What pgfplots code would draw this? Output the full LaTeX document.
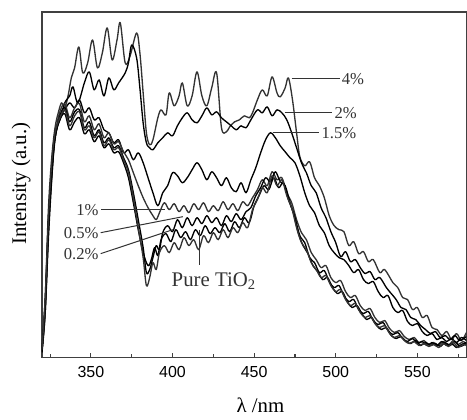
\documentclass[border=0pt]{standalone}
\usepackage{fontspec}
\setmainfont{Liberation Serif}
\newfontfamily\ticksf{Liberation Sans}
\usepackage{pgfplots}
\pgfplotsset{compat=1.18}

\begin{document}
\begin{tikzpicture}
\useasboundingbox (-25.2pt,-37.2pt) rectangle (255.4pt,214.8pt);
\begin{axis}[
  scale only axis, width=255pt, height=207.6pt,
  xmin=320, xmax=580, ymin=0, ymax=346,
  xtick={350,400,450,500,550}, xticklabels={350,400,450,500,550},
  minor xtick={325,375,425,475,525,575},
  ytick=\empty,
  xtick pos=bottom, tick align=inside,
  major tick length=3pt, minor tick length=1.8pt,
  axis line style={line width=0.8pt, black!75},
  tick style={line width=0.7pt, black!75},
  xticklabel style={font=\ticksf\fontsize{9.6}{11}\selectfont, yshift=-2pt},
  xlabel={λ /nm}, ylabel={Intensity (a.u.)},
  label style={font=\fontsize{12.5}{14}\selectfont},
  xlabel style={at={(axis description cs:0.515,0)}, anchor=base, yshift=-33pt},
  ylabel style={at={(axis description cs:-0.049,0.503)}, anchor=center},
  cycle list={{black!80, solid, no markers}},
  every axis plot/.append style={line width=0.8pt, smooth, tension=0.55, line join=round},
]
% 4%
\addplot coordinates {(320,8)(322,60)(324,150)(326,200)(328,230)(330,245)(332,255)(334,250)(336,262)(338,280)(340,290)(342.6,311)(345,285)(348,295)(351,318)(354,290)(357,305)(360,330)(363,298)(366,318)(368,335)(371,295)(374,302)(378,325)(380,305)(382,265)(384,225)(386,213)(388,218)(391,240)(393,248)(396,243)(398,265)(401,252)(404,262)(406,275)(409,252)(412,262)(415,286)(418,262)(421,252)(424,270)(427,285)(430,230)(433,226)(435,231)(438,236)(441,238)(444,242)(447,240)(449,245)(452,258)(455,268)(458,262)(461,281)(464,265)(466,261)(469,270)(471,280)(473.5,258)(476,225)(478,201)(481,192)(484,196)(487,180)(490,172)(493,160)(496,142)(499,132)(502,128)(505,126)(508,112)(511,116)(514,104)(517,106)(520,96)(523,98)(527,85)(530,88)(535,75)(538,70)(541,60)(544,58)(547,48)(550,50)(553,40)(556,42)(559,30)(562,28)(565,22)(568,26)(571,18)(574,24)(577,17)(580,25)};
% 2%
\addplot coordinates {(320,6)(322,52)(324,140)(326,190)(328,225)(331,238)(334,255)(337,262)(339,271)(342,255)(346,275)(349,286)(352,268)(355,278)(358,262)(361,280)(364,268)(367,275)(371,285)(373,295)(375,313)(378,300)(380,270)(382,235)(384,215)(386,210)(388,208)(391,215)(394,220)(397,225)(400,222)(403,232)(406,240)(409,245)(412,238)(415,235)(418,242)(421,250)(424,243)(427,246)(430,240)(433,236)(436,232)(439,228)(442,232)(445,230)(448,238)(452,248)(455,245)(458,251)(461,242)(464,248)(467,245)(470,238)(473,225)(476,210)(479,195)(482,185)(485,172)(488,165)(491,150)(494,140)(497,126)(500,115)(503,101)(506,106)(509,96)(512,98)(515,90)(518,84)(521,86)(524,78)(527,80)(531,70)(534,64)(537,58)(540,50)(543,48)(546,40)(549,38)(552,32)(555,28)(558,24)(561,26)(564,20)(567,22)(570,18)(573,22)(576,17)(580,21)};
% 1.5%
\addplot coordinates {(320,5)(322,45)(324,130)(326,185)(328,220)(331,240)(334,248)(337,255)(340,250)(343,258)(346,245)(349,250)(352,238)(355,240)(358,228)(361,225)(364,215)(367,218)(370,205)(373,208)(376,198)(379,205)(382,195)(385,180)(388,165)(391,152)(394,165)(397,172)(400,185)(403,182)(406,175)(409,180)(412,188)(415,195)(418,188)(421,178)(424,186)(427,180)(430,172)(433,180)(436,170)(439,166)(442,175)(445,165)(448,178)(451,190)(454,205)(457,218)(460,225)(463,220)(466,212)(469,206)(472,200)(475,195)(478,182)(481,165)(484,152)(487,145)(490,132)(493,125)(496,112)(499,105)(502,100)(505,98)(508,92)(511,85)(514,88)(517,78)(520,74)(523,76)(526,66)(529,60)(532,62)(535,50)(538,45)(541,47)(544,36)(547,32)(550,34)(553,26)(556,22)(559,24)(562,18)(565,20)(568,16)(571,19)(574,15)(577,20)(580,17)};
% 1%
\addplot coordinates {(320,8)(322,45)(324,120)(326,178)(328,222)(331,246)(334,254)(337,240)(340,250)(343,254)(346,236)(349,242)(352,228)(355,234)(358,220)(361,225)(364,214)(367,216)(370,206)(373,198)(376,185)(379,172)(382,160)(385,150)(388,142)(390,138)(392,145)(395,155)(398,148)(401,154)(404,146)(407,152)(410,145)(413,154)(416,148)(419,155)(422,146)(425,152)(428,147)(431,156)(434,148)(437,154)(440,147)(443,156)(446,152)(449,160)(452,168)(455,178)(458,172)(461,186)(464,178)(467,180)(470,165)(473,155)(476,138)(479,125)(482,118)(485,105)(488,98)(491,90)(494,92)(497,80)(500,75)(503,77)(506,66)(509,60)(512,62)(515,52)(518,47)(521,49)(524,40)(527,35)(530,37)(533,29)(536,25)(539,27)(542,21)(545,18)(548,20)(551,15)(554,17)(557,13)(560,15)(563,12)(566,16)(569,12)(572,17)(575,13)(578,16)(580,14)};
% 0.5%
\addplot coordinates {(320,6)(322,50)(324,125)(326,180)(328,218)(331,242)(334,250)(337,236)(340,246)(343,248)(346,230)(349,236)(352,222)(355,228)(358,215)(361,220)(364,210)(367,212)(370,200)(373,188)(376,165)(379,138)(382,110)(384,85)(386,88)(388,100)(390,112)(392,108)(394,125)(397,132)(400,126)(403,138)(406,130)(409,140)(412,132)(415,140)(418,134)(421,142)(424,135)(427,140)(430,132)(433,142)(436,136)(439,144)(442,138)(445,146)(448,150)(451,162)(454,170)(457,180)(460,176)(463,186)(466,176)(469,172)(472,155)(475,140)(478,122)(481,115)(484,100)(487,95)(490,85)(493,87)(496,76)(499,70)(502,72)(505,62)(508,56)(511,58)(514,48)(517,44)(520,46)(523,37)(526,33)(529,35)(532,27)(535,23)(538,25)(541,19)(544,16)(547,19)(550,14)(553,16)(556,12)(559,15)(562,12)(565,16)(568,12)(571,14)(574,10)(577,13)(580,15)};
% 0.2%
\addplot coordinates {(320,10)(322,55)(324,130)(326,185)(328,220)(331,238)(334,244)(337,228)(340,236)(343,240)(346,224)(349,228)(352,216)(355,222)(358,210)(361,214)(364,205)(367,206)(370,195)(373,180)(376,155)(379,128)(382,105)(385,92)(387,98)(389,110)(391,102)(393,118)(396,124)(399,116)(402,128)(405,120)(408,126)(411,118)(414,128)(417,122)(420,132)(423,124)(426,130)(429,125)(432,134)(435,126)(438,136)(441,130)(444,140)(447,135)(450,152)(453,162)(456,172)(459,168)(462,180)(465,170)(468,175)(471,158)(474,145)(477,125)(480,112)(483,104)(486,92)(489,86)(492,78)(495,80)(498,70)(501,64)(504,66)(507,56)(510,50)(513,52)(516,44)(519,38)(522,40)(525,32)(528,28)(531,30)(534,22)(537,19)(540,21)(543,16)(546,14)(549,17)(552,12)(555,15)(558,12)(561,14)(564,11)(567,15)(570,12)(573,16)(576,11)(580,14)};
% pure TiO2
\addplot coordinates {(320,8)(322,60)(324,140)(326,195)(328,225)(331,240)(334,248)(337,232)(340,242)(343,246)(346,228)(349,232)(352,220)(355,226)(358,212)(361,218)(364,208)(367,210)(370,198)(373,185)(376,160)(379,130)(382,100)(384,72)(386,80)(388,95)(390,88)(392,105)(395,112)(398,105)(401,115)(404,108)(407,120)(410,112)(413,118)(416,108)(419,122)(422,115)(425,125)(428,118)(431,128)(434,120)(437,130)(440,125)(443,135)(446,130)(449,148)(452,158)(455,170)(458,165)(461,182)(464,172)(467,178)(470,162)(473,150)(476,130)(479,115)(482,108)(485,95)(488,88)(491,80)(494,82)(497,72)(500,66)(503,68)(506,58)(509,52)(512,54)(515,45)(518,40)(521,42)(524,34)(527,30)(530,32)(533,24)(536,20)(539,22)(542,17)(545,14)(548,16)(551,12)(554,14)(557,11)(560,13)(563,10)(566,14)(569,11)(572,15)(575,10)(578,13)(580,12)};

% labels and leaders
\draw[line width=0.6pt, black!80] (axis cs:473,279) -- (axis cs:502.4,279)
  node[anchor=west, inner sep=1pt, font=\fontsize{10}{12}\selectfont, text=black!80] {4\%};
\draw[line width=0.6pt, black!80] (axis cs:468.7,245) -- (axis cs:498,245)
  node[anchor=west, inner sep=1pt, font=\fontsize{10}{12}\selectfont, text=black!80] {2\%};
\draw[line width=0.6pt, black!80] (axis cs:461.4,225) -- (axis cs:490,225)
  node[anchor=west, inner sep=1pt, font=\fontsize{10}{12}\selectfont, text=black!80] {1.5\%};
\draw[line width=0.6pt, black!80] (axis cs:395.3,148) -- (axis cs:356,148)
  node[anchor=east, inner sep=1pt, font=\fontsize{10}{12}\selectfont, text=black!80] {1\%};
\draw[line width=0.6pt, black!80] (axis cs:406.3,141) -- (axis cs:356,125)
  node[anchor=east, inner sep=1pt, font=\fontsize{10}{12}\selectfont, text=black!80] {0.5\%};
\draw[line width=0.6pt, black!80] (axis cs:400.2,128) -- (axis cs:356,104)
  node[anchor=east, inner sep=1pt, font=\fontsize{10}{12}\selectfont, text=black!80] {0.2\%};
\draw[line width=0.6pt, black!80] (axis cs:416.7,128) -- (axis cs:416.7,93);
\node[anchor=base, font=\fontsize{12.5}{14}\selectfont, text=black!80] at (axis cs:425.3,71) {Pure TiO\textsubscript{2}};
\end{axis}
\end{tikzpicture}
\end{document}
